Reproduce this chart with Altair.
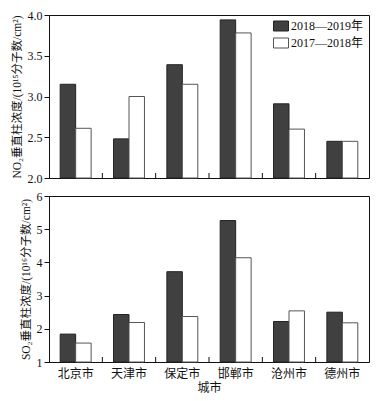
import altair as alt
import pandas as pd

cities = ["北京市", "天津市", "保定市", "邯郸市", "沧州市", "德州市"]
series = ["2018—2019年", "2017—2018年"]
no2_1819 = [3.15, 2.48, 3.39, 3.94, 2.91, 2.45]
no2_1718 = [2.61, 3.00, 3.15, 3.78, 2.60, 2.45]
so2_1819 = [1.84, 2.43, 3.72, 5.26, 2.22, 2.50]
so2_1718 = [1.57, 2.19, 2.37, 4.14, 2.54, 2.18]
boundaries = [1, 2, 3, 4, 5]  # group separators (between cities)

FONT = "Liberation Serif, Noto Sans CJK SC"
TICK_PX = 5


def make_df(a, b):
    rows = []
    for c, v1, v2 in zip(cities, a, b):
        rows.append({"city": c, "series": series[0], "value": v1})
        rows.append({"city": c, "series": series[1], "value": v2})
    return pd.DataFrame(rows)


def legend():
    return alt.Legend(title=None, orient="top-right", offset=5,
                      labelFont=FONT, labelFontSize=12, labelColor="#111",
                      symbolType="M-1.5,-1H1.5V1H-1.5Z", symbolSize=100,
                      symbolStrokeWidth=1, rowPadding=3, labelOffset=4)


def panel(df, domain, tick_values, fmt, ytitle, show_labels, H):
    base = domain[0]
    xscale = alt.Scale(domain=cities, paddingInner=0.42, paddingOuter=0.21)
    yscale = alt.Scale(domain=domain, nice=False, zero=False, clamp=True)
    yaxis = alt.Axis(values=tick_values, format=fmt, title=ytitle, grid=False,
                     tickSize=5, labelPadding=2, labelFontSize=12, titleFontSize=11.5,
                     labelFont=FONT, titleFont=FONT, titleFontWeight="normal",
                     titlePadding=5, domainColor="#111", tickColor="#111",
                     labelColor="#111", titleColor="#111")
    if show_labels:
        xaxis = alt.Axis(title="城市", orient="bottom", ticks=False, domain=False,
                         labelAngle=0, labelFontSize=12, labelPadding=6,
                         titleFontSize=12, titlePadding=3,
                         labelFont=FONT, titleFont=FONT, titleFontWeight="normal",
                         labelColor="#111", titleColor="#111")
    else:
        xaxis = None
    bars = alt.Chart(df).mark_bar(strokeWidth=1).encode(
        x=alt.X("city:N", sort=cities, scale=xscale, axis=xaxis),
        xOffset=alt.XOffset("series:N", sort=series,
                            scale=alt.Scale(domain=series, paddingInner=0, paddingOuter=0)),
        y=alt.Y("value:Q", scale=yscale, axis=yaxis),
        y2=alt.datum(base),
        fill=alt.Fill("series:N", sort=series,
                      scale=alt.Scale(domain=series, range=["#404040", "#ffffff"]),
                      legend=legend()),
        stroke=alt.Stroke("series:N", sort=series,
                          scale=alt.Scale(domain=series, range=["#222222", "#555555"]),
                          legend=legend()),
    )
    tick_len = (domain[1] - domain[0]) * TICK_PX / H
    sep_df = pd.DataFrame({"b": boundaries, "y0": [base] * len(boundaries),
                           "y1": [base + tick_len] * len(boundaries)})
    sep = alt.Chart(sep_df).mark_rule(color="#111", strokeWidth=1).encode(
        x=alt.X("b:Q", scale=alt.Scale(domain=[0, len(cities)], nice=False, zero=False), axis=None),
        y=alt.Y("y0:Q", scale=yscale, axis=yaxis),
        y2="y1:Q",
    )
    return alt.layer(bars, sep).resolve_scale(x="independent").properties(width=320, height=H)


top = panel(make_df(no2_1819, no2_1718), [2, 4], [2.0, 2.5, 3.0, 3.5, 4.0], ".1f",
            "NO₂垂直柱浓度/(10¹⁵分子数/cm²)", False, 163)
bottom = panel(make_df(so2_1819, so2_1718), [1, 6], [1, 2, 3, 4, 5, 6], "d",
               "SO₂垂直柱浓度/(10¹⁶分子数/cm²)", True, 166)

chart = alt.vconcat(top, bottom, spacing=4).properties(
    padding={"left": 2, "top": 0, "right": 5, "bottom": 0},
    background="white",
).configure_view(stroke="#111", strokeWidth=1)

chart.save("out.html", embed_options={"renderer": "svg", "actions": False})
